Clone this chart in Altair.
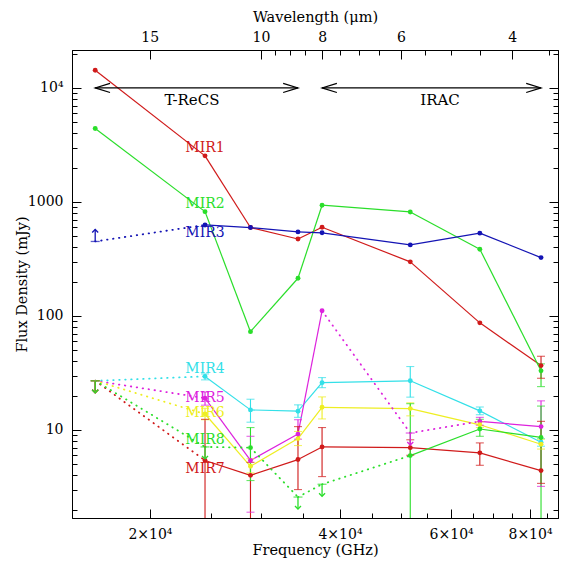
import altair as alt
import pandas as pd

C = 299792.458  # GHz * micron

# ---------------- data ----------------
freq = [16380, 24450, 28860, 34320, 37470, 51690, 66620, 83280]  # GHz
names = ["MIR1", "MIR2", "MIR3", "MIR4", "MIR5", "MIR6", "MIR7", "MIR8"]
colors = ["#d01a1a", "#2ade2a", "#1414b4", "#33e0e8", "#dd22dd", "#eeee22", "#d01a1a", "#2ade2a"]

# flags: d = detection, u = upper limit, l = lower limit
mir1_val = [14300, 2535, 596, 473, 600, 298, 87, 36.7]
mir1_flag = "dddddddd"
mir1_lo = [None, None, None, None, None, None, None, 28.4]
mir1_hi = [None, None, None, None, None, None, None, 44.3]

mir2_val = [4400, 822, 72.8, 214, 936, 817, 385, 33.0]
mir2_flag = "dddddddd"
mir2_lo = [None, None, None, None, None, None, None, 24.0]
mir2_hi = [None, None, None, None, None, None, None, 38.0]

mir3_val = [450, 628, 596, 546, 536, 420, 532, 325]
mir3_flag = "lddddddd"
mir3_lo = [None] * 8
mir3_hi = [None] * 8

mir4_val = [27, 29.5, 15.0, 14.6, 26, 27, 14.7, 7.8]
mir4_flag = "uddddddd"
mir4_lo = [None, 27.5, 11.7, 12.9, 23.5, 19.4, 13.6, 7.2]
mir4_hi = [None, 31.0, 18.6, 16.6, 28.8, 36.0, 15.9, 8.4]

mir5_val = [27, 19, 5.4, 9.2, 111, 9.4, 11.9, 10.7]
mir5_flag = "uddddudd"
mir5_lo = [None, 16.5, 1.9, 8.3, None, None, 11.0, 3.2]
mir5_hi = [None, 21.5, 8.8, 12.3, None, None, 12.9, 18.0]

mir6_val = [27, 13.8, 4.8, 8.4, 15.8, 15.4, 11.1, 7.5]
mir6_flag = "uddddddd"
mir6_lo = [None, 12.3, 4.2, 7.3, 12.5, 13.3, 10.5, 6.8]
mir6_hi = [None, 15.5, 5.6, 9.7, 19.5, 17.3, 11.8, 8.3]

mir7_val = [27, 5.4, 4.0, 5.5, 7.1, 7.0, 6.3, 4.4]
mir7_flag = "uddddddd"
mir7_lo = [None, 1.0, 1.0, 3.0, 3.9, 6.0, 4.9, 3.4]
mir7_hi = [None, 12.4, 5.2, 10.7, 10.5, 8.2, 7.7, 11.9]

mir8_val = [27, 7.1, 7.0, 2.58, 3.34, 5.96, 10.2, 8.6]
mir8_flag = "uuduuddd"
mir8_lo = [None, None, 3.6, None, None, 1.0, 8.8, 1.0]
mir8_hi = [None, None, 10.5, None, None, 17.0, 12.4, 16.2]

series = {
    "MIR1": (mir1_val, mir1_flag, mir1_lo, mir1_hi),
    "MIR2": (mir2_val, mir2_flag, mir2_lo, mir2_hi),
    "MIR3": (mir3_val, mir3_flag, mir3_lo, mir3_hi),
    "MIR4": (mir4_val, mir4_flag, mir4_lo, mir4_hi),
    "MIR5": (mir5_val, mir5_flag, mir5_lo, mir5_hi),
    "MIR6": (mir6_val, mir6_flag, mir6_lo, mir6_hi),
    "MIR7": (mir7_val, mir7_flag, mir7_lo, mir7_hi),
    "MIR8": (mir8_val, mir8_flag, mir8_lo, mir8_hi),
}

# series labels (placed at the second frequency)
label_y = [2960, 960, 535, 34.3, 19.1, 14.1, 4.55, 8.17]

# instrument ranges
inst_names = ["T-ReCS", "IRAC"]
inst_start = [16380, 37470]
inst_end = [34320, 83280]
inst_mid = [23310, 57620]
inst_y = [10000, 10000]

# axis ticks
x_major = [20000, 40000, 60000, 80000]
x_minor = [25000, 30000, 35000, 45000, 50000, 55000, 65000, 70000, 75000, 85000]
wl_major = [15, 10, 8, 6, 4]
wl_minor = [9.5, 9, 8.5, 7.5, 7, 6.5, 5.5, 5, 4.5, 3.5]
y_major = [10, 100, 1000, 10000]
y_minor = [m * d for d in [1, 10, 100, 1000] for m in range(2, 10)] + [20000]

# ---------------- tables ----------------
pts, segs, errs, lims = [], [], [], []
for n in names:
    v, fl, lo, hi = series[n]
    for j in range(len(freq)):
        if fl[j] == "d":
            pts.append(dict(series=n, f=freq[j], v=v[j]))
        else:
            lims.append(dict(series=n, f=freq[j], v=v[j], kind=fl[j]))
        if lo[j] is not None:
            errs.append(dict(series=n, f=freq[j], lo=lo[j], hi=hi[j]))
        if j < len(freq) - 1:
            segs.append(dict(series=n, f1=freq[j], v1=v[j], f2=freq[j + 1], v2=v[j + 1],
                             dotted=bool(fl[j] != "d" or fl[j + 1] != "d")))
pts_df = pd.DataFrame(pts)
seg_df = pd.DataFrame(segs)
err_df = pd.DataFrame(errs)
lim_df = pd.DataFrame(lims)
lab_df = pd.DataFrame(dict(series=names, f=[freq[1]] * len(names), v=label_y))
inst_df = pd.DataFrame(dict(name=inst_names, f1=inst_start, f2=inst_end, fm=inst_mid, y=inst_y))

# ---------------- scales & axes ----------------
FONT = "DejaVu Serif"
xs = alt.Scale(type="log", domain=[15051, 88600], nice=False)
ys = alt.Scale(type="log", domain=[1.69, 21500], nice=False)
col = alt.Color("series:N", scale=alt.Scale(domain=names, range=colors), legend=None)

def lst(a):
    return "[" + ",".join(repr(float(x)) for x in a) + "]"

xmaj = lst(x_major)
wlmaj_f = [C / w for w in wl_major]
wlmaj = lst(wlmaj_f)
ymaj = lst(y_major)

common = dict(grid=False, domainColor="black", tickColor="black", labelColor="black",
              titleColor="black", labelFont=FONT, titleFont=FONT, labelFontSize=14,
              titleFontSize=14.5, titleFontWeight="normal", labelOverlap=False,
              labelFlush=False, tickWidth=1, domainWidth=1)

W, H = 486, 468

bottom_axis = alt.Axis(
    orient="bottom", values=x_major + x_minor, title="Frequency (GHz)",
    labelExpr=f"indexof({xmaj}, datum.value) >= 0 ? (datum.value/10000) + '×10⁴' : ''",
    tickSize=alt.ExprRef(expr=f"indexof({xmaj}, datum.value) >= 0 ? -9 : -5"),
    labelPadding=18, titleX=W / 2, titleY=32, titleBaseline="middle", titleAlign="center",
    **common)
top_axis = alt.Axis(
    orient="top", values=wlmaj_f + [C / w for w in wl_minor], title="Wavelength (μm)",
    labelExpr=f"indexof({wlmaj}, datum.value) >= 0 ? format({C}/datum.value, '.0f') : ''",
    tickSize=alt.ExprRef(expr=f"indexof({wlmaj}, datum.value) >= 0 ? -9 : -5"),
    labelPadding=15, titleX=W / 2, titleY=-33, titleBaseline="middle", titleAlign="center",
    **common)
left_axis = alt.Axis(
    orient="left", values=y_major + y_minor, title="Flux Density (mJy)",
    labelExpr=f"datum.value == 10000 ? '10⁴' : (indexof({ymaj}, datum.value) >= 0 ? format(datum.value, 'd') : '')",
    tickSize=alt.ExprRef(expr=f"indexof({ymaj}, datum.value) >= 0 ? -9 : -5"),
    labelPadding=18, titleX=-50, titleY=H / 2, titleAngle=270, titleBaseline="middle",
    titleAlign="center", **common)
right_axis = alt.Axis(
    orient="right", values=y_major + y_minor, title=None, labels=False,
    tickSize=alt.ExprRef(expr=f"indexof({ymaj}, datum.value) >= 0 ? -9 : -5"),
    **common)

def X(field, axis=None):
    return alt.X(field, type="quantitative", scale=xs, axis=axis)

def Y(field, axis=None):
    return alt.Y(field, type="quantitative", scale=ys, axis=axis)

# ---------------- layers ----------------
seg_solid = alt.Chart(seg_df).transform_filter("!datum.dotted").mark_rule(strokeWidth=1.2).encode(
    x=X("f1", bottom_axis), x2="f2", y=Y("v1", left_axis), y2="v2", color=col)
seg_dot = alt.Chart(seg_df).transform_filter("datum.dotted").mark_rule(
    strokeWidth=1.8, strokeDash=[0.5, 5.5], strokeCap="round").encode(
    x=X("f1"), x2="f2", y=Y("v1"), y2="v2", color=col)

err_rule = alt.Chart(err_df).mark_rule(strokeWidth=1.1, clip=True).encode(
    x=X("f"), y=Y("lo"), y2="hi", color=col)
err_lo = alt.Chart(err_df).mark_tick(orient="horizontal", size=8, thickness=1.1, clip=True).encode(
    x=X("f"), y=Y("lo"), color=col)
err_hi = alt.Chart(err_df).mark_tick(orient="horizontal", size=8, thickness=1.1, clip=True).encode(
    x=X("f"), y=Y("hi"), color=col)

points = alt.Chart(pts_df).mark_point(filled=True, shape="circle", size=24, opacity=1).encode(
    x=X("f"), y=Y("v"), color=col)

lim_bar = alt.Chart(lim_df).mark_tick(orient="horizontal", size=9, thickness=1.3).encode(
    x=X("f"), y=Y("v"), color=col)
ul_stem = alt.Chart(lim_df).transform_filter("datum.kind == 'u'").mark_rule(
    strokeWidth=1.3, y2Offset=12).encode(x=X("f"), y=Y("v"), y2="v", color=col)
ul_head = alt.Chart(lim_df).transform_filter("datum.kind == 'u'").mark_point(
    shape="M-1,-1L0,0L1,-1", size=36, yOffset=12, filled=False, strokeWidth=1.3, opacity=1).encode(
    x=X("f"), y=Y("v"), color=col)
ll_stem = alt.Chart(lim_df).transform_filter("datum.kind == 'l'").mark_rule(
    strokeWidth=1.3, y2Offset=-12).encode(x=X("f"), y=Y("v"), y2="v", color=col)
ll_head = alt.Chart(lim_df).transform_filter("datum.kind == 'l'").mark_point(
    shape="M-1,1L0,0L1,1", size=36, yOffset=-12, filled=False, strokeWidth=1.3, opacity=1).encode(
    x=X("f"), y=Y("v"), color=col)

labels = alt.Chart(lab_df).mark_text(font=FONT, fontSize=14, align="center", baseline="middle").encode(
    x=X("f"), y=Y("v"), text="series:N", color=col)

inst_rule = alt.Chart(inst_df).mark_rule(color="black", strokeWidth=1.2).encode(
    x=X("f1", top_axis), x2="f2", y=Y("y", right_axis))
inst_head_l = alt.Chart(inst_df).mark_point(
    shape="M2.6,-0.8L0,0L2.6,0.8", size=130, filled=False, color="black", strokeWidth=1.2, opacity=1).encode(
    x=X("f1"), y=Y("y"))
inst_head_r = alt.Chart(inst_df).mark_point(
    shape="M-2.6,-0.8L0,0L-2.6,0.8", size=130, filled=False, color="black", strokeWidth=1.2, opacity=1).encode(
    x=X("f2"), y=Y("y"))
inst_text = alt.Chart(inst_df).mark_text(font=FONT, fontSize=15, color="black", dy=12,
                                         align="center", baseline="middle").encode(
    x=X("fm"), y=Y("y"), text="name:N")

chart = alt.layer(
    seg_solid, inst_rule, seg_dot, err_rule, err_lo, err_hi, points,
    lim_bar, ul_stem, ul_head, ll_stem, ll_head, labels,
    inst_head_l, inst_head_r, inst_text,
).resolve_scale(x="shared", y="shared", color="shared").resolve_axis(
    x="independent", y="independent"
).properties(
    width=W, height=H,
    autosize=alt.AutoSizeParams(type="none"),
    padding={"left": 64, "top": 42, "right": 1, "bottom": 41},
    background="white",
).configure_view(stroke="black", strokeWidth=1)

chart.save("out.html", embed_options={"renderer": "svg", "actions": False})
